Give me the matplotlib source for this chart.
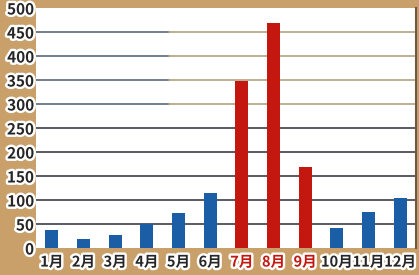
import matplotlib.pyplot as plt
import matplotlib.patheffects as pe

months = ['1月', '2月', '3月', '4月', '5月', '6月', '7月', '8月', '9月', '10月', '11月', '12月']
values = [38, 18, 28, 51, 73, 114, 348, 469, 169, 42, 74, 104]
highlight = ['7月', '8月', '9月']
yticks = [0, 50, 100, 150, 200, 250, 300, 350, 400, 450, 500]

plt.rcParams['font.family'] = ['Noto Sans CJK JP', 'DejaVu Sans']

fig = plt.figure(figsize=(4.19, 2.75), dpi=100, facecolor='#c9a069')
ax = fig.add_axes([36 / 419, 27 / 275, 380 / 419, 240 / 275])
ax.set_facecolor('white')

colors = ['#c3170f' if m in highlight else '#1c5ea6' for m in months]
x = range(len(months))
ax.bar(x, values, width=0.41, color=colors, zorder=3)

ax.set_xlim(-0.5, len(months) - 0.5)
ax.set_ylim(0, 500)
ax.set_yticks(yticks)
# grid lines: dark in the lower half, bluish fading to tan in the upper half
for t in yticks[1:-1]:
    if t <= 250:
        ax.axhline(t, color='#3c4048', lw=1.2, zorder=1)
    else:
        ax.axhline(t, xmin=0, xmax=0.35, color='#5a6878', lw=1.2, zorder=1)
        ax.axhline(t, xmin=0.35, xmax=1, color='#b3a27f', lw=1.2, zorder=1)

outline = [pe.withStroke(linewidth=3.5, foreground='white')]
ax.set_yticklabels([str(t) for t in yticks], fontsize=11, fontweight='bold',
                   color='#262626', path_effects=outline)
ax.set_xticks(list(x))
ax.set_xticklabels(months, fontsize=10.5, fontweight='bold', path_effects=outline)
for lbl, m in zip(ax.get_xticklabels(), months):
    lbl.set_color('#c3170f' if m in highlight else '#262626')

ax.tick_params(axis='x', length=0, pad=4)
ax.tick_params(axis='y', length=0, pad=1.5)
for side in ['top', 'left', 'bottom']:
    ax.spines[side].set_visible(False)
ax.spines['right'].set_color('#6b5a40')
ax.spines['right'].set_linewidth(1.5)

fig.savefig('out.png', dpi=100, facecolor=fig.get_facecolor())
